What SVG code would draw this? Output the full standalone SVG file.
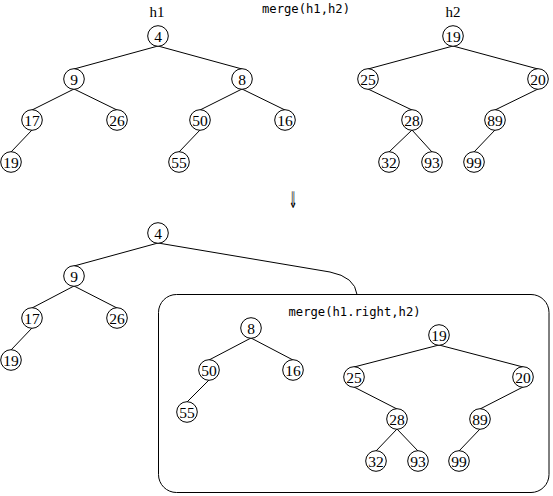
<svg xmlns="http://www.w3.org/2000/svg" width="553" height="496" viewBox="0 0 553 496">
<style>
.n circle{fill:#fff;stroke:#000;stroke-width:1}
.n text{font-family:"Liberation Serif","Times New Roman",serif;font-size:15.5px;text-anchor:middle;fill:#000}
.e line,.e path{stroke:#000;stroke-width:1;fill:none}
.mono{font-family:"DejaVu Sans Mono","Liberation Mono",monospace;font-size:12.2px;fill:#000}
.lbl{font-family:"Liberation Serif","Times New Roman",serif;font-size:15px;text-anchor:middle;fill:#000}
.arr{font-family:"DejaVu Sans","Noto Sans",sans-serif;font-size:23px;text-anchor:middle;fill:#000}
</style>
<rect width="553" height="496" fill="#fff"/>
<text class="lbl" x="157" y="17">h1</text>
<text class="lbl" x="453" y="17">h2</text>
<text class="mono" x="262" y="12.5">merge(h1,h2)</text>
<text class="arr" transform="translate(293,208) scale(0.45,1)">⇓</text>
<rect id="box" x="158.5" y="294.5" width="390.5" height="198" rx="18" ry="18" fill="none" stroke="#000" stroke-width="1"/>
<text class="mono" x="288.5" y="316">merge(h1.right,h2)</text>
<g id="connectors" class="e">
<line x1="158" y1="46" x2="74" y2="69"/>
<line x1="158" y1="46" x2="242" y2="69"/>
<line x1="74" y1="89" x2="32" y2="110"/>
<line x1="74" y1="89" x2="117" y2="110"/>
<line x1="32" y1="130" x2="11" y2="152"/>
<line x1="242" y1="89" x2="200" y2="110"/>
<line x1="242" y1="89" x2="285" y2="110"/>
<line x1="200" y1="130" x2="179" y2="152"/>
<line x1="453" y1="46" x2="368" y2="69"/>
<line x1="453" y1="46" x2="538" y2="69"/>
<line x1="368" y1="89" x2="412" y2="110"/>
<line x1="538" y1="89" x2="495" y2="110"/>
<line x1="412" y1="130" x2="389" y2="152"/>
<line x1="412" y1="130" x2="432" y2="152"/>
<line x1="495" y1="130" x2="474" y2="152"/>
<line x1="158" y1="243" x2="74" y2="266"/>
<path d="M158,243 L330,272 Q355,277 357,294.5"/>
<line x1="74" y1="286" x2="32" y2="308"/>
<line x1="74" y1="286" x2="117" y2="308"/>
<line x1="32" y1="328" x2="11" y2="350"/>
<line x1="251" y1="338" x2="209" y2="360"/>
<line x1="251" y1="338" x2="293" y2="360"/>
<line x1="209" y1="380" x2="187" y2="402"/>
<line x1="439" y1="345" x2="354" y2="367"/>
<line x1="439" y1="345" x2="523" y2="367"/>
<line x1="354" y1="387" x2="397" y2="409"/>
<line x1="523" y1="387" x2="480" y2="409"/>
<line x1="397" y1="429" x2="376" y2="451"/>
<line x1="397" y1="429" x2="418" y2="451"/>
<line x1="480" y1="429" x2="459" y2="451"/>
</g>
<g id="h1-4" class="n"><circle cx="158" cy="36" r="10.3"/><text x="158" y="41.5">4</text></g>
<g id="h1-9" class="n"><circle cx="74" cy="79" r="10.3"/><text x="74" y="84.5">9</text></g>
<g id="h1-8" class="n"><circle cx="242" cy="79" r="10.3"/><text x="242" y="84.5">8</text></g>
<g id="h1-17" class="n"><circle cx="32" cy="120" r="10.3"/><text x="32" y="125.5">17</text></g>
<g id="h1-26" class="n"><circle cx="117" cy="120" r="10.3"/><text x="117" y="125.5">26</text></g>
<g id="h1-50" class="n"><circle cx="200" cy="120" r="10.3"/><text x="200" y="125.5">50</text></g>
<g id="h1-16" class="n"><circle cx="285" cy="120" r="10.3"/><text x="285" y="125.5">16</text></g>
<g id="h1-19" class="n"><circle cx="11" cy="162" r="10.3"/><text x="11" y="167.5">19</text></g>
<g id="h1-55" class="n"><circle cx="179" cy="162" r="10.3"/><text x="179" y="167.5">55</text></g>
<g id="h2-19" class="n"><circle cx="453" cy="36" r="10.3"/><text x="453" y="41.5">19</text></g>
<g id="h2-25" class="n"><circle cx="368" cy="79" r="10.3"/><text x="368" y="84.5">25</text></g>
<g id="h2-20" class="n"><circle cx="538" cy="79" r="10.3"/><text x="538" y="84.5">20</text></g>
<g id="h2-28" class="n"><circle cx="412" cy="120" r="10.3"/><text x="412" y="125.5">28</text></g>
<g id="h2-89" class="n"><circle cx="495" cy="120" r="10.3"/><text x="495" y="125.5">89</text></g>
<g id="h2-32" class="n"><circle cx="389" cy="162" r="10.3"/><text x="389" y="167.5">32</text></g>
<g id="h2-93" class="n"><circle cx="432" cy="162" r="10.3"/><text x="432" y="167.5">93</text></g>
<g id="h2-99" class="n"><circle cx="474" cy="162" r="10.3"/><text x="474" y="167.5">99</text></g>
<g id="r-4" class="n"><circle cx="158" cy="233" r="10.3"/><text x="158" y="238.5">4</text></g>
<g id="r-9" class="n"><circle cx="74" cy="276" r="10.3"/><text x="74" y="281.5">9</text></g>
<g id="r-17" class="n"><circle cx="32" cy="318" r="10.3"/><text x="32" y="323.5">17</text></g>
<g id="r-26" class="n"><circle cx="117" cy="318" r="10.3"/><text x="117" y="323.5">26</text></g>
<g id="r-19" class="n"><circle cx="11" cy="360" r="10.3"/><text x="11" y="365.5">19</text></g>
<g id="m-8" class="n"><circle cx="251" cy="328" r="10.3"/><text x="251" y="333.5">8</text></g>
<g id="m-50" class="n"><circle cx="209" cy="370" r="10.3"/><text x="209" y="375.5">50</text></g>
<g id="m-16" class="n"><circle cx="293" cy="370" r="10.3"/><text x="293" y="375.5">16</text></g>
<g id="m-55" class="n"><circle cx="187" cy="412" r="10.3"/><text x="187" y="417.5">55</text></g>
<g id="m-19" class="n"><circle cx="439" cy="335" r="10.3"/><text x="439" y="340.5">19</text></g>
<g id="m-25" class="n"><circle cx="354" cy="377" r="10.3"/><text x="354" y="382.5">25</text></g>
<g id="m-20" class="n"><circle cx="523" cy="377" r="10.3"/><text x="523" y="382.5">20</text></g>
<g id="m-28" class="n"><circle cx="397" cy="419" r="10.3"/><text x="397" y="424.5">28</text></g>
<g id="m-89" class="n"><circle cx="480" cy="419" r="10.3"/><text x="480" y="424.5">89</text></g>
<g id="m-32" class="n"><circle cx="376" cy="461" r="10.3"/><text x="376" y="466.5">32</text></g>
<g id="m-93" class="n"><circle cx="418" cy="461" r="10.3"/><text x="418" y="466.5">93</text></g>
<g id="m-99" class="n"><circle cx="459" cy="461" r="10.3"/><text x="459" y="466.5">99</text></g>
</svg>
